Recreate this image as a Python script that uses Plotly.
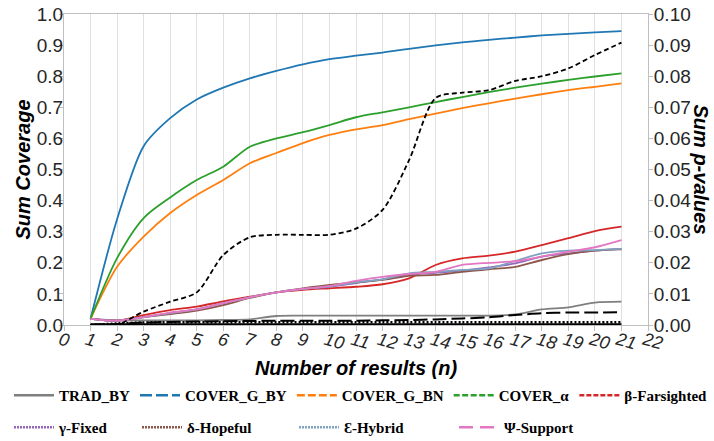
import plotly.graph_objects as go

# ---------------- data ----------------
n = list(range(1, 22))
x_ticks = list(range(0, 23))

trad_by = [0.020, 0.015, 0.015, 0.015, 0.015, 0.016, 0.018, 0.029, 0.030, 0.030, 0.030,
           0.030, 0.030, 0.030, 0.030, 0.030, 0.034, 0.050, 0.057, 0.072, 0.075]
cover_g_by = [0.020, 0.340, 0.575, 0.665, 0.725, 0.763, 0.793, 0.817, 0.838, 0.855, 0.866,
              0.876, 0.888, 0.899, 0.909, 0.917, 0.924, 0.931, 0.936, 0.941, 0.945]
cover_g_bn = [0.020, 0.187, 0.284, 0.360, 0.418, 0.466, 0.520, 0.553, 0.585, 0.611, 0.629,
              0.643, 0.662, 0.680, 0.697, 0.713, 0.728, 0.742, 0.755, 0.766, 0.777]
cover_alpha = [0.020, 0.215, 0.344, 0.410, 0.466, 0.509, 0.573, 0.600, 0.620, 0.643, 0.668,
               0.684, 0.700, 0.717, 0.733, 0.749, 0.763, 0.776, 0.788, 0.799, 0.809]
beta_farsighted = [0.020, 0.014, 0.032, 0.048, 0.059, 0.076, 0.091, 0.105, 0.113, 0.118, 0.123,
                   0.131, 0.150, 0.193, 0.214, 0.223, 0.236, 0.257, 0.279, 0.302, 0.316]
gamma_fixed = [0.020, 0.014, 0.025, 0.038, 0.050, 0.070, 0.089, 0.105, 0.116, 0.123, 0.135,
               0.147, 0.162, 0.168, 0.175, 0.185, 0.198, 0.220, 0.230, 0.239, 0.245]
delta_hopeful = [0.020, 0.014, 0.025, 0.035, 0.046, 0.064, 0.087, 0.105, 0.118, 0.129, 0.137,
                 0.145, 0.158, 0.161, 0.171, 0.179, 0.187, 0.209, 0.228, 0.239, 0.243]
eps_hybrid = [0.020, 0.014, 0.025, 0.038, 0.050, 0.070, 0.089, 0.105, 0.116, 0.124, 0.137,
              0.147, 0.166, 0.171, 0.177, 0.182, 0.206, 0.230, 0.239, 0.241, 0.245]
psi_support = [0.020, 0.014, 0.025, 0.040, 0.050, 0.070, 0.089, 0.105, 0.116, 0.125, 0.142,
               0.155, 0.164, 0.171, 0.193, 0.200, 0.205, 0.220, 0.236, 0.250, 0.273]

# p-value series (right axis)
p_dashed = [0.0000, 0.0001, 0.0043, 0.0075, 0.0105, 0.0225, 0.0282, 0.0290, 0.0290, 0.0290, 0.0310,
            0.0370, 0.0530, 0.0730, 0.0747, 0.0755, 0.0785, 0.0800, 0.0825, 0.0868, 0.0908]
p_longdash = [0.0000, 0.0003, 0.0008, 0.0010, 0.0011, 0.0012, 0.0013, 0.0014, 0.0014, 0.0014, 0.0014,
              0.0015, 0.0016, 0.0018, 0.0021, 0.0025, 0.0032, 0.0038, 0.0040, 0.0040, 0.0041]
p_dotted = [0.0000, 0.0005, 0.0008, 0.0009, 0.0009, 0.0009, 0.0009, 0.0009, 0.0009, 0.0009, 0.0009,
            0.0009, 0.0009, 0.0009, 0.0009, 0.0009, 0.0009, 0.0009, 0.0009, 0.0009, 0.0009]
p_zero = [0.0, 0.0, 0.0, 0.0, 0.0, 0.0, 0.0, 0.0, 0.0, 0.0, 0.0,
          0.0, 0.0, 0.0, 0.0, 0.0, 0.0, 0.0, 0.0, 0.0, 0.0]

series_names = ["TRAD_BY", "COVER_G_BY", "COVER_G_BN", "COVER_α", "β-Farsighted",
                "γ-Fixed", "δ-Hopeful", "Ɛ-Hybrid", "Ψ-Support"]
series_values = [trad_by, cover_g_by, cover_g_bn, cover_alpha, beta_farsighted,
                 gamma_fixed, delta_hopeful, eps_hybrid, psi_support]

# ---------------- styles ----------------
colors = ["#7f7f7f", "#1f77b4", "#ff7f0e", "#2ca02c", "#d62728",
          "#9467bd", "#8c564b", "#7fa3c0", "#e377c2"]
legend_dash = ["solid", "12px,4px", "8px,3px", "6px,2.5px", "5px,2px",
               "2px,1px", "2px,1px", "2px,1px", "14px,7px"]
legend_ids = ["legend", "legend", "legend", "legend", "legend",
              "legend2", "legend3", "legend4", "legend5"]

W, H = 714, 441
PX_L, PX_R = 64, 648      # plot area left / right
PX_T, PX_B = 14, 325      # plot area top / bottom

fig = go.Figure()

# plotted coverage lines (left axis)
for name, vals, col in zip(series_names, series_values, colors):
    fig.add_trace(go.Scatter(
        x=n, y=vals, mode="lines", name=name, showlegend=False,
        line=dict(color=col, width=1.8, shape="spline", smoothing=0.8),
        xaxis="x", yaxis="y", hoverinfo="x+y+name"))

# p-value lines (right axis)
fig.add_trace(go.Scatter(x=n, y=p_zero, mode="lines", showlegend=False, name="p zero",
                         line=dict(color="black", width=3.5), yaxis="y2"))
fig.add_trace(go.Scatter(x=n, y=p_dotted, mode="lines", showlegend=False, name="p dotted",
                         line=dict(color="black", width=2.5, dash="2px,2px", shape="spline", smoothing=0.8),
                         yaxis="y2"))
fig.add_trace(go.Scatter(x=n, y=p_longdash, mode="lines", showlegend=False, name="p long dash",
                         line=dict(color="black", width=2, dash="14px,5px", shape="spline", smoothing=0.8),
                         yaxis="y2"))
fig.add_trace(go.Scatter(x=n, y=p_dashed, mode="lines", showlegend=False, name="p dashed",
                         line=dict(color="black", width=1.8, dash="5px,3px", shape="spline", smoothing=0.8),
                         yaxis="y2"))

# legend entries
for name, col, dsh, lg in zip(series_names, colors, legend_dash, legend_ids):
    fig.add_trace(go.Scatter(
        x=[None], y=[None], mode="lines", name=name, legend=lg,
        line=dict(color=col, width=2.5, dash=dsh), yaxis="y"))

tick_font = dict(family="Liberation Sans, Arial", size=19, color="#262626")
title_font = dict(family="Liberation Sans, Arial", size=20, color="black", weight="bold", style="italic")
leg_font = dict(family="Liberation Serif, Times New Roman", size=15, color="black", weight="bold")

def leg(x_px, top_px):
    return dict(orientation="h", x=x_px / W, xanchor="left", y=1 - top_px / H, yanchor="top",
                yref="container", font=leg_font, itemwidth=40, bgcolor="rgba(0,0,0,0)",
                borderwidth=0, itemclick=False, itemdoubleclick=False)

ROW1_TOP, ROW2_TOP = 379, 411

fig.update_layout(
    width=W, height=H,
    margin=dict(l=0, r=0, t=PX_T, b=H - PX_B, autoexpand=False),
    paper_bgcolor="white", plot_bgcolor="white",
    xaxis=dict(domain=[PX_L / W, PX_R / W], range=[0, 22], tickmode="array",
               tickvals=x_ticks, ticktext=[str(v) for v in x_ticks],
               tickangle=15, tickfont=dict(family="Liberation Sans, Arial", size=18,
                                           color="#262626", style="italic"),
               ticklabelstandoff=-8, ticklabelshift=-4,
               showgrid=True, gridcolor="#e0e0e0", gridwidth=1,
               showline=True, linecolor="#bfbfbf", linewidth=1, mirror=True,
               ticks="outside", ticklen=5, tickcolor="#bfbfbf",
               zeroline=False, automargin=False,
               title=dict(text="Number of results (n)", font=title_font, standoff=21)),
    yaxis=dict(range=[0, 1], tickmode="linear", tick0=0, dtick=0.1, tickformat=".1f",
               tickfont=tick_font, showgrid=False, showline=True, linecolor="#bfbfbf",
               ticks="outside", ticklen=4, tickcolor="#bfbfbf", zeroline=False,
               ticklabelstandoff=-8, ticklabeloverflow="allow", automargin=False,
               title=dict(text="Sum Coverage", font=title_font, standoff=0)),
    yaxis2=dict(range=[0, 0.1], tickmode="linear", tick0=0, dtick=0.01, tickformat=".2f",
                overlaying="y", side="right", anchor="x",
                tickfont=tick_font, showgrid=False, showline=True, linecolor="#bfbfbf",
                ticks="outside", ticklen=4, tickcolor="#bfbfbf", zeroline=False,
                ticklabelstandoff=-3, ticklabeloverflow="allow", automargin=False),
    legend=leg(9, ROW1_TOP),
    legend2=leg(9, ROW2_TOP),
    legend3=leg(137, ROW2_TOP),
    legend4=leg(294, ROW2_TOP),
    legend5=leg(454, ROW2_TOP),
    annotations=[dict(text="Sum p-values", textangle=90, font=title_font,
                      xref="paper", yref="paper", x=701 / W, y=0.5,
                      xanchor="center", yanchor="middle", showarrow=False)],
)

# remove the browser's default 8px page margin so the figure fills the window
fig.write_html("out.html", config={"displayModeBar": False},
               post_script="document.body.style.margin='0';")
